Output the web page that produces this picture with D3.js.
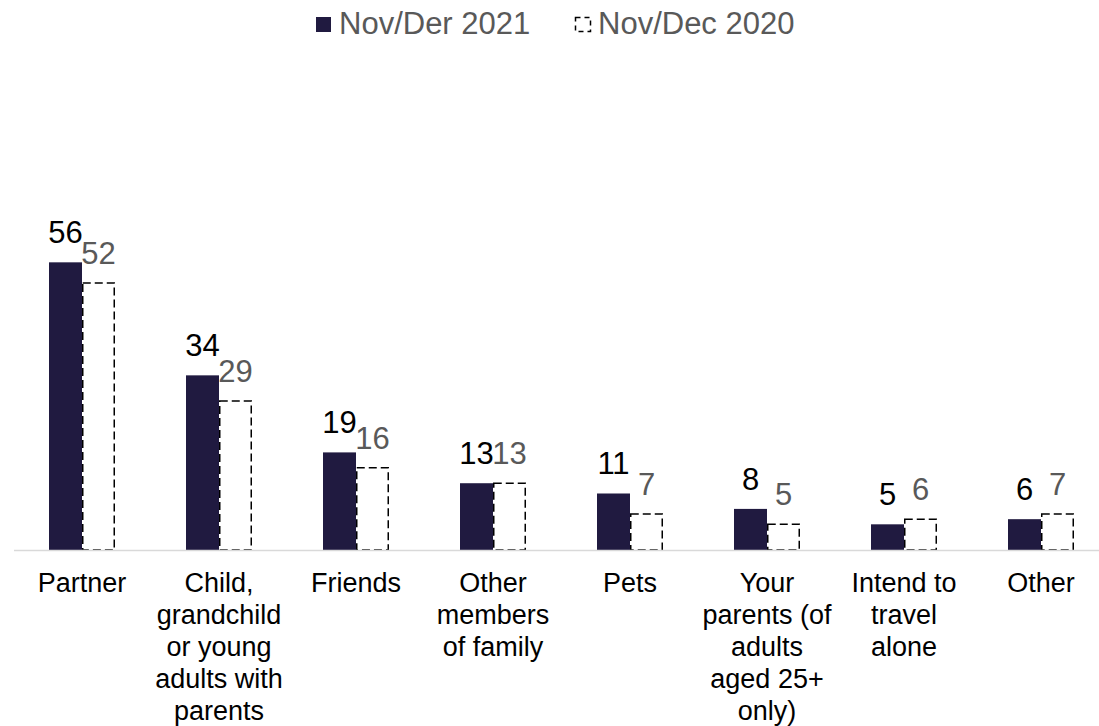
<!DOCTYPE html>
<html>
<head>
<meta charset="utf-8">
<script src="https://cdn.jsdelivr.net/npm/d3@7"></script>
<style>
  html, body { margin: 0; padding: 0; background: #ffffff; }
  svg { display: block; }
  text { font-family: Arial, "Liberation Sans", sans-serif; }
</style>
</head>
<body>
<svg id="chart" width="1099" height="726"></svg>
<script>
// ---- data ----
const categories = ["Partner", "Child, grandchild or young adults with parents", "Friends", "Other members of family", "Pets", "Your parents (of adults aged 25+ only)", "Intend to travel alone", "Other"];
const categoryLines = [
  ["Partner"],
  ["Child,", "grandchild", "or young", "adults with", "parents"],
  ["Friends"],
  ["Other", "members", "of family"],
  ["Pets"],
  ["Your", "parents (of", "adults", "aged 25+", "only)"],
  ["Intend to", "travel", "alone"],
  ["Other"]
];
const seriesNames = ["Nov/Der 2021", "Nov/Dec 2020"];
const values2021 = [56, 34, 19, 13, 11, 8, 5, 6];
const values2020 = [52, 29, 16, 13, 7, 5, 6, 7];

// ---- layout ----
const W = 1099, H = 726;
const baseY = 550;
const pxPerUnit = 5.137;
const yMax = 60;
const darkColor = "#201a40";
const greyText = "#595959";

const svg = d3.select("#chart");

const x = d3.scaleBand().domain(categories).range([13.5, 1109.5]).paddingInner(0).paddingOuter(0);
const barW = 33;
const x1 = d3.scaleBand().domain(seriesNames)
  .range([x.bandwidth() / 2 - barW, x.bandwidth() / 2 + barW]).padding(0);
const y = d3.scaleLinear().domain([0, yMax]).range([baseY, baseY - yMax * pxPerUnit]);

const rows = categories.map((c, i) => ({cat: c, lines: categoryLines[i], v: [values2021[i], values2020[i]]}));

const g = svg.append("g");

// 2021 bars (solid)
g.selectAll("rect.b2021").data(rows).join("rect")
  .attr("class", "b2021")
  .attr("x", d => x(d.cat) + x1(seriesNames[0]))
  .attr("y", d => y(d.v[0]))
  .attr("width", x1.bandwidth())
  .attr("height", d => y(0) - y(d.v[0]))
  .attr("fill", darkColor);

// 2020 bars (dashed outline)
g.selectAll("rect.b2020").data(rows).join("rect")
  .attr("class", "b2020")
  .attr("x", d => x(d.cat) + x1(seriesNames[1]) + 0.75)
  .attr("y", d => y(d.v[1]))
  .attr("width", x1.bandwidth() - 1.5)
  .attr("height", d => y(0) - y(d.v[1]))
  .attr("fill", "#ffffff")
  .attr("stroke", "#000000")
  .attr("stroke-width", 1.5)
  .attr("stroke-dasharray", "8,4");

// axis baseline
const xAxis = d3.axisBottom(x).tickSize(0).tickFormat("");
const axisG = svg.append("g").attr("transform", `translate(0,${baseY})`).call(xAxis);
axisG.select(".domain").attr("stroke", "#d9d9d9").attr("stroke-width", 1.5);

// data labels
g.selectAll("text.l2021").data(rows).join("text")
  .attr("class", "l2021")
  .attr("x", d => x(d.cat) + x1(seriesNames[0]) + x1.bandwidth() / 2)
  .attr("y", d => y(d.v[0]) - 19)
  .attr("text-anchor", "middle")
  .attr("font-size", 31)
  .attr("fill", "#000000")
  .text(d => d.v[0]);

g.selectAll("text.l2020").data(rows).join("text")
  .attr("class", "l2020")
  .attr("x", d => x(d.cat) + x1(seriesNames[1]) + x1.bandwidth() / 2)
  .attr("y", d => y(d.v[1]) - 19)
  .attr("text-anchor", "middle")
  .attr("font-size", 31)
  .attr("fill", greyText)
  .text(d => d.v[1]);

// category labels
const catG = g.selectAll("text.cat").data(rows).join("text")
  .attr("class", "cat")
  .attr("text-anchor", "middle")
  .attr("font-size", 27)
  .attr("fill", "#000000");
catG.each(function(d) {
  const t = d3.select(this);
  const cx = x(d.cat) + x.bandwidth() / 2;
  d.lines.forEach((ln, j) => {
    t.append("tspan").attr("x", cx).attr("y", 592 + j * 32).text(ln);
  });
});

// legend
const leg = svg.append("g");
leg.append("rect").attr("x", 316).attr("y", 17).attr("width", 15).attr("height", 15).attr("fill", darkColor);
leg.append("text").attr("x", 339).attr("y", 34).attr("font-size", 31).attr("fill", greyText).text(seriesNames[0]);
leg.append("rect").attr("x", 575.5).attr("y", 17.5).attr("width", 15).attr("height", 14)
  .attr("fill", "#ffffff").attr("stroke", "#000000").attr("stroke-width", 1.5)
  .attr("stroke-dasharray", "5,4").attr("stroke-dashoffset", 0);
leg.append("text").attr("x", 598).attr("y", 34).attr("font-size", 31).attr("fill", greyText).text(seriesNames[1]);
</script>
</body>
</html>
